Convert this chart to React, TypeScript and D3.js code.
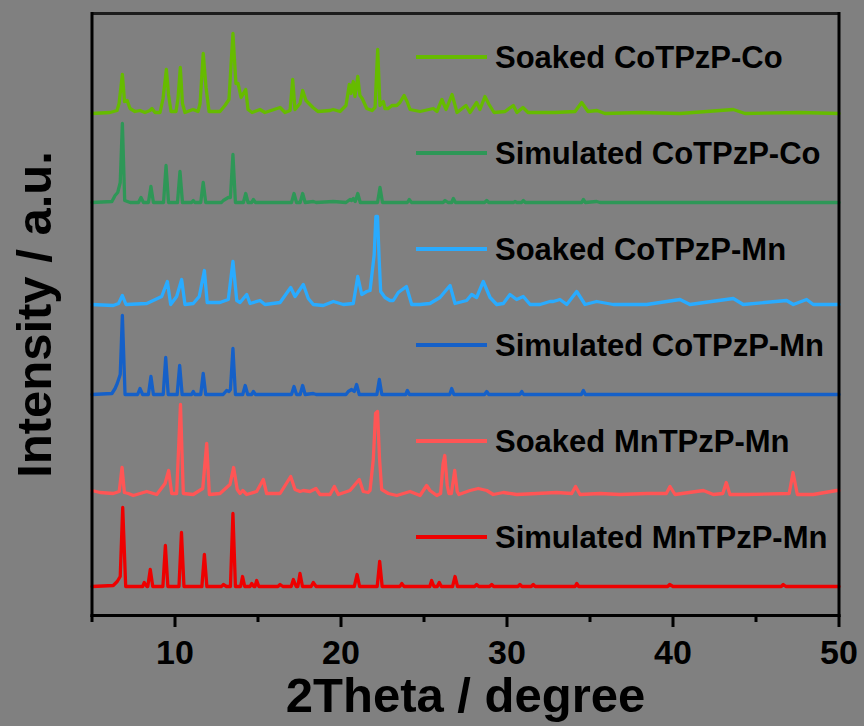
import React from "react";
import * as d3 from "d3";

// ---- Data: [2theta (deg), intensity (a.u., above each pattern's baseline)] ----
const soakedCoCo: [number, number][] = [
  [5.0, 0], [6.08, 1], [6.51, 3], [6.63, 10], [6.83, 39], [6.96, 12], [7.12, 13], [7.29, 5], [7.59, 2], [7.89, 3],
  [8.19, 1], [8.49, 3], [8.61, 5], [8.8, 1], [9.1, 1], [9.28, 15], [9.48, 44], [9.61, 19], [9.76, 2], [10.06, 2],
  [10.18, 15], [10.32, 46], [10.45, 10], [10.6, 1], [11.08, 4], [11.39, 2], [11.51, 10], [11.7, 60], [11.87, 26],
  [12.05, 2], [12.71, 2], [13.01, 8], [13.25, 14], [13.49, 80], [13.67, 30], [13.8, 30], [13.98, 16], [14.26, 24],
  [14.4, 4], [14.64, 1], [15.12, 4], [15.42, 1], [16.33, 6], [16.63, 1], [16.93, 3], [17.09, 34], [17.23, 4],
  [17.53, 10], [17.69, 23], [17.89, 13], [18.13, 9], [18.31, 6], [18.61, 2], [19.34, 3], [19.52, 4], [19.94, 2],
  [20.3, 8], [20.5, 29], [20.6, 20], [20.74, 32], [20.84, 17], [21.01, 37], [21.14, 18], [21.28, 15], [21.55, 5],
  [21.87, 3], [22.05, 6], [22.21, 64], [22.35, 8], [22.55, 12], [22.65, 5], [22.85, 5], [23.07, 8], [23.36, 8],
  [23.55, 11], [23.8, 18], [23.98, 12], [24.16, 4], [24.76, 2], [25.56, 5], [25.78, 2], [26.08, 14], [26.33, 4],
  [26.69, 19], [26.99, 1], [27.53, 8], [27.77, 1], [28.17, 11], [28.37, 4], [28.67, 17], [28.92, 9], [29.22, 1],
  [29.88, 2], [30.38, 8], [30.6, 1], [30.96, 6], [31.27, 1], [32.89, 1], [34.1, 2], [34.5, 11], [34.88, 2],
  [35.42, 3], [35.9, 0], [38.01, 1], [40.42, 0], [43.63, 4], [44.34, 0], [47.65, 1], [50.0, 0],
];

const simulatedCoCo: [number, number][] = [
  [5.0, 0], [6.2, 1], [6.39, 7], [6.55, 10], [6.7, 20], [6.83, 79], [6.97, 2], [7.3, 0], [7.8, 0], [7.95, 5],
  [8.1, 0], [8.4, 0], [8.55, 16], [8.7, 0], [9.31, 0], [9.46, 37], [9.61, 0], [10.15, 0], [10.3, 31], [10.45, 0],
  [11.0, 0], [11.1, 2], [11.2, 0], [11.55, 0], [11.7, 20], [11.85, 0], [12.8, 0], [12.91, 2], [13.21, 5],
  [13.34, 5], [13.49, 48], [13.64, 0], [14.12, 0], [14.26, 9], [14.4, 0], [14.62, 0], [14.72, 3], [14.85, 0],
  [17.02, 0], [17.17, 9], [17.32, 0], [17.54, 0], [17.69, 9], [17.84, 0], [18.33, 1], [18.5, 0], [19.54, 1],
  [20.3, 0], [20.54, 3], [20.64, 2], [20.74, 4], [20.86, 1], [21.01, 9], [21.16, 0], [22.2, 0], [22.35, 15],
  [22.5, 0], [24.0, 0], [24.11, 3], [24.25, 0], [26.15, 0], [26.27, 2], [26.45, 0], [26.67, 0], [26.77, 4],
  [26.9, 0], [28.65, 0], [28.78, 2], [28.9, 0], [30.4, 0], [30.48, 1], [30.6, 0], [30.88, 0], [30.98, 2],
  [31.1, 0], [34.5, 0], [34.6, 3], [34.72, 0], [35.4, 1], [35.6, 0], [50.0, 0],
];

const soakedCoMn: [number, number][] = [
  [5.0, 0], [6.28, -1], [6.6, 1], [6.83, 9], [7.05, 0], [8.3, 1], [8.69, 4], [9.2, 8], [9.54, 23], [9.74, 0],
  [10.1, 8], [10.4, 25], [10.6, 0], [11.1, 1], [11.46, 8], [11.77, 34], [11.94, 2], [12.71, 2], [13.21, 5],
  [13.49, 43], [13.72, 4], [13.92, 2], [14.32, 10], [14.52, 1], [15.12, 4], [15.42, 0], [16.33, 2], [16.97, 17],
  [17.23, 8], [17.73, 20], [18.03, 6], [18.33, 0], [18.93, -1], [19.54, 3], [20.14, 0], [20.74, 1], [21.01, 28],
  [21.25, 10], [21.55, 13], [21.75, 14], [22.0, 50], [22.1, 88], [22.2, 88], [22.3, 45], [22.39, 13],
  [22.65, 7], [22.95, 4], [23.15, 4], [23.45, 12], [23.94, 18], [24.26, 0], [24.76, 0], [25.36, 1], [25.96, 7],
  [26.57, 19], [26.87, 1], [27.57, 4], [27.87, 10], [28.17, 7], [28.57, 23], [28.98, 7], [29.38, 0], [29.78, 1],
  [30.18, 10], [30.58, 5], [30.98, 8], [31.39, 0], [31.99, 0], [32.59, 3], [32.79, 3], [33.19, 5], [33.6, 0],
  [34.2, 13], [34.7, 0], [35.4, 3], [36.4, 0], [38.42, 0], [40.42, 5], [41.02, 0], [43.63, 6], [44.23, 0],
  [46.84, 4], [47.25, 0], [48.05, 5], [48.45, 0], [50.0, 0],
];

const simulatedCoMn: [number, number][] = [
  [5.0, 0], [6.2, 1], [6.39, 6], [6.52, 11], [6.7, 20], [6.83, 79], [6.99, 0], [7.3, 0], [7.75, 0], [7.89, 6],
  [8.05, 0], [8.4, 0], [8.55, 18], [8.7, 0], [9.29, 0], [9.44, 37], [9.59, 0], [10.13, 0], [10.28, 29],
  [10.43, 0], [11.0, 0], [11.1, 3], [11.2, 0], [11.55, 0], [11.7, 21], [11.85, 0], [12.9, 0], [13.11, 4],
  [13.25, 3], [13.34, 5], [13.49, 46], [13.64, 0], [14.08, 0], [14.23, 9], [14.38, 0], [14.62, 0], [14.72, 3],
  [14.85, 0], [17.02, 0], [17.17, 8], [17.32, 0], [17.54, 0], [17.69, 9], [17.84, 0], [18.33, 1], [18.5, 0],
  [20.3, 0], [20.44, 3], [20.64, 5], [20.8, 3], [20.94, 10], [21.1, 0], [22.16, 0], [22.31, 15], [22.46, 0],
  [23.9, 0], [24.0, 4], [24.12, 0], [26.55, 0], [26.67, 6], [26.8, 0], [28.65, 0], [28.78, 3], [28.9, 0],
  [30.78, 0], [30.89, 3], [31.0, 0], [34.48, 0], [34.6, 4], [34.72, 0], [50.0, 0],
];

const soakedMnMn: [number, number][] = [
  [5.0, 3], [5.48, 1], [6.28, 0], [6.64, 2], [6.81, 26], [6.95, 1], [7.19, 0], [7.49, -2], [8.3, 2], [8.9, -1],
  [9.4, 10], [9.62, 23], [9.8, 0], [10.1, 0], [10.33, 89], [10.5, 0], [11.1, -1], [11.67, 5], [11.91, 50],
  [12.07, -1], [12.71, 0], [13.31, 9], [13.53, 26], [13.75, 4], [13.92, 0], [14.08, 3], [14.32, -1], [14.92, 2],
  [15.32, 14], [15.52, 0], [16.33, 0], [16.97, 17], [17.23, 4], [17.53, 2], [17.73, 3], [18.13, 2], [18.49, 5],
  [18.73, -1], [19.34, -1], [19.6, 7], [19.84, -1], [20.54, 3], [21.1, 14], [21.34, 2], [21.64, 1], [21.75, 3],
  [21.95, 35], [22.08, 80], [22.2, 82], [22.32, 35], [22.45, 4], [22.85, 0], [23.36, -2], [24.16, 2],
  [24.76, -2], [25.16, 8], [25.36, 3], [25.77, -2], [26.0, 0], [26.15, 30], [26.25, 38], [26.4, 8], [26.5, 0],
  [26.65, 0], [26.85, 23], [27.0, 2], [27.1, -1], [27.77, 3], [28.27, 5], [28.78, 3], [29.17, -1], [29.78, 1],
  [30.58, -1], [31.79, 0], [32.99, 1], [33.9, 0], [34.13, 7], [34.4, -1], [35.6, 0], [36.81, -1], [38.42, 0],
  [39.6, 0], [39.82, 7], [40.12, -1], [41.83, 3], [42.43, -1], [43.0, 0], [43.21, 11], [43.43, -1], [44.44, -1],
  [47.0, 0], [47.23, 21], [47.49, -1], [48.45, -1], [49.86, 3], [50.0, 3],
];

const simulatedMnMn: [number, number][] = [
  [5.0, 0], [6.28, 1], [6.52, 5], [6.7, 10], [6.85, 79], [7.03, 0], [7.79, 0], [8.05, 0], [8.15, 4], [8.3, 0],
  [8.36, 0], [8.51, 17], [8.66, 0], [9.27, 0], [9.42, 41], [9.57, 0], [10.24, 0], [10.39, 54], [10.54, 0],
  [11.1, 0], [11.62, 0], [11.77, 32], [11.92, 0], [12.8, 0], [12.91, 2], [13.1, 0], [13.34, 0], [13.49, 73],
  [13.64, 0], [13.95, 0], [14.07, 10], [14.2, 0], [14.52, 0], [14.62, 3], [14.75, 0], [14.82, 0], [14.92, 6],
  [15.05, 0], [16.2, 0], [16.33, 2], [16.5, 0], [17.0, 0], [17.13, 7], [17.3, 0], [17.4, 0], [17.53, 13],
  [17.68, 0], [18.2, 0], [18.33, 4], [18.5, 0], [20.8, 0], [20.97, 12], [21.12, 0], [22.18, 0], [22.33, 25],
  [22.48, 0], [23.55, 0], [23.66, 3], [23.8, 0], [25.35, 0], [25.46, 6], [25.6, 0], [25.8, 0], [25.92, 4],
  [26.05, 0], [26.72, 0], [26.87, 10], [27.02, 0], [28.05, 0], [28.17, 2], [28.3, 0], [28.95, 0], [29.08, 2],
  [29.2, 0], [30.66, 0], [30.78, 2], [30.9, 0], [31.46, 0], [31.58, 2], [31.7, 0], [34.1, 0], [34.2, 3],
  [34.32, 0], [39.68, 0], [39.8, 2], [40.0, 0], [46.52, 0], [46.64, 2], [46.8, 0], [50.0, 0],
];

const seriesNames = [
  "Soaked CoTPzP-Co",
  "Simulated CoTPzP-Co",
  "Soaked CoTPzP-Mn",
  "Simulated CoTPzP-Mn",
  "Soaked MnTPzP-Mn",
  "Simulated MnTPzP-Mn",
];
const seriesData = [soakedCoCo, simulatedCoCo, soakedCoMn, simulatedCoMn, soakedMnMn, simulatedMnMn];
const seriesOffsets = [502, 413, 311, 221, 122, 29];
const seriesColors = ["#66bb00", "#2e9757", "#29abff", "#1560c8", "#ff5555", "#ee0000"];

const xTicksMajor = [10, 20, 30, 40, 50];
const xTicksMinor = [5, 15, 25, 35, 45];
const xDomain: [number, number] = [5, 50];
const yDomain: [number, number] = [0, 602];

const W = 864;
const H = 726;
const FONT = "'Liberation Sans', Arial, Helvetica, sans-serif";

export default function App() {
  const left = 92, right = 839, top = 13.5, bottom = 615.5;
  const x = d3.scaleLinear().domain(xDomain).range([left, right]);
  const y = d3.scaleLinear().domain(yDomain).range([bottom, top]);

  const lines = seriesData.map((data, i) => {
    const off = seriesOffsets[i];
    const gen = d3
      .line<[number, number]>()
      .x((d) => x(d[0]))
      .y((d) => y(d[1] + off));
    return gen(data) || "";
  });

  return (
    <svg
      width={W}
      height={H}
      style={{ position: "absolute", left: 0, top: 0, display: "block" }}
      xmlns="http://www.w3.org/2000/svg"
    >
      <rect x={0} y={0} width={W} height={H} fill="#808080" />

      {lines.map((p, i) => (
        <path
          key={i}
          d={p}
          fill="none"
          stroke={seriesColors[i]}
          strokeWidth={3.3}
          strokeLinejoin="round"
          strokeLinecap="round"
        />
      ))}

      {/* frame */}
      <line x1={left} x2={right} y1={top} y2={top} stroke="#1c1c1c" strokeWidth={3} />
      <line x1={right} x2={right} y1={top - 1.5} y2={bottom + 1.5} stroke="#000" strokeWidth={3} />
      <line x1={left} x2={left} y1={top - 1.5} y2={bottom + 1.5} stroke="#000" strokeWidth={3} />
      <line x1={left - 1.5} x2={right + 1.5} y1={bottom} y2={bottom} stroke="#000" strokeWidth={3} />

      {/* ticks */}
      {xTicksMajor.map((t) => (
        <line key={"M" + t} x1={x(t)} x2={x(t)} y1={bottom} y2={bottom + 11.5} stroke="#000" strokeWidth={3} />
      ))}
      {xTicksMinor.map((t) => (
        <line key={"m" + t} x1={x(t)} x2={x(t)} y1={bottom} y2={bottom + 6.5} stroke="#000" strokeWidth={3} />
      ))}
      {xTicksMajor.map((t) => (
        <text
          key={"L" + t}
          x={x(t)}
          y={664}
          textAnchor="middle"
          fontFamily={FONT}
          fontWeight="bold"
          fontSize={34}
          fill="#000"
        >
          {t}
        </text>
      ))}

      {/* axis titles */}
      <text
        x={(left + right) / 2}
        y={712}
        textAnchor="middle"
        fontFamily={FONT}
        fontWeight="bold"
        fontSize={49}
        fill="#000"
      >
        2Theta / degree
      </text>
      <text
        transform={`translate(51, ${(top + bottom) / 2}) rotate(-90)`}
        textAnchor="middle"
        fontFamily={FONT}
        fontWeight="bold"
        fontSize={49}
        fill="#000"
      >
        Intensity / a.u.
      </text>

      {/* legend */}
      {seriesNames.map((name, i) => (
        <g key={name}>
          <line
            x1={416}
            x2={487}
            y1={57 + 96 * i}
            y2={57 + 96 * i}
            stroke={seriesColors[i]}
            strokeWidth={4}
          />
          <text
            x={495}
            y={68 + 96 * i}
            fontFamily={FONT}
            fontWeight="bold"
            fontSize={31}
            fill="#000"
          >
            {name}
          </text>
        </g>
      ))}
    </svg>
  );
}
